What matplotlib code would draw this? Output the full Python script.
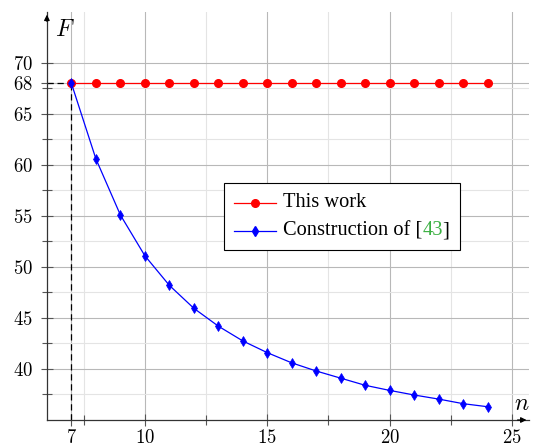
import numpy as np
import matplotlib
matplotlib.use("Agg")
import matplotlib.pyplot as plt
from matplotlib.ticker import FixedLocator
from matplotlib.lines import Line2D
from matplotlib.offsetbox import (DrawingArea, TextArea, HPacker, VPacker,
                                  AnchoredOffsetbox)

plt.rcParams['font.family'] = ['cmr10', 'DejaVu Serif']
plt.rcParams['mathtext.fontset'] = 'cm'
plt.rcParams['axes.formatter.use_mathtext'] = True

# data
n_vals = [7, 8, 9, 10, 11, 12, 13, 14, 15, 16, 17, 18, 19, 20, 21, 22, 23, 24]
this_work = [68] * len(n_vals)
construction = [68.0, 60.6, 55.1, 51.1, 48.2, 45.95, 44.2, 42.75, 41.6, 40.6,
                39.8, 39.1, 38.4, 37.9, 37.45, 37.05, 36.6, 36.3]
x_major = [7, 10, 15, 20, 25]
x_minor = [7.5, 12.5, 17.5, 22.5]
y_major = [40, 45, 50, 55, 60, 65, 68, 70]
y_minor = [37.5, 42.5, 47.5, 52.5, 57.5, 62.5, 67.5]
label_a = "This work"
label_b_parts = ["Construction of [", "43", "]"]
label_b_colors = ["black", "#3cb043", "black"]

fig = plt.figure(figsize=(5.33, 4.47), dpi=100)
ax = fig.add_axes([0.088, 0.0604, 0.905, 0.913])
ax.set_xlim(6, 25.7)
ax.set_ylim(35, 75)

ax.xaxis.set_major_locator(FixedLocator(x_major))
ax.xaxis.set_minor_locator(FixedLocator(x_minor))
ax.yaxis.set_major_locator(FixedLocator(y_major))
ax.yaxis.set_minor_locator(FixedLocator(y_minor))
ax.grid(which='major', color='#b8b8b8', lw=0.8)
ax.grid(which='minor', color='#e4e4e4', lw=0.8)
ax.set_axisbelow(True)
ax.tick_params(which='both', direction='inout', length=8.5, width=0.8,
               color='#555555', labelsize=13.5)
ax.tick_params(axis='y', pad=6)
ax.tick_params(axis='x', pad=2.5)
ax.tick_params(which='minor', length=7)

for s in ['top', 'right']:
    ax.spines[s].set_visible(False)
for s in ['left', 'bottom']:
    ax.spines[s].set_color('#333333')
    ax.spines[s].set_linewidth(0.9)

# arrow heads
ax.annotate('', xy=(0, 1.0), xytext=(0, 0.97), xycoords='axes fraction',
            arrowprops=dict(arrowstyle='-|>', color='black', lw=0.9,
                            mutation_scale=8), annotation_clip=False)
ax.annotate('', xy=(1.0, 0), xytext=(0.97, 0), xycoords='axes fraction',
            arrowprops=dict(arrowstyle='-|>', color='black', lw=0.9,
                            mutation_scale=8), annotation_clip=False)

# dashed guides at (7, 68)
ax.plot([n_vals[0], n_vals[0]], [35, this_work[0]], color='black', lw=0.9,
        ls=(0, (5, 3)), zorder=2)
ax.plot([6, n_vals[0]], [this_work[0], this_work[0]], color='black', lw=0.9,
        ls=(0, (5, 3)), zorder=2)

ax.plot(n_vals, this_work, color='red', lw=0.9, marker='o', markersize=5.5,
        zorder=3)
ax.plot(n_vals, construction, color='blue', lw=0.9, marker='d',
        markersize=5, markeredgewidth=0.5, zorder=4)

ax.text(0.037, 0.956, '$F$', transform=ax.transAxes, fontsize=17,
        ha='center', va='center')
ax.text(0.985, 0.04, '$n$', transform=ax.transAxes, fontsize=17,
        ha='center', va='center')


# legend built by hand so the citation number can be green
def handle(color, marker, ms):
    da = DrawingArea(30, 10, 0, 0)
    da.add_artist(Line2D([0, 30], [5, 5], color=color, lw=0.9))
    da.add_artist(Line2D([15], [5], color=color, marker=marker,
                         markersize=ms, lw=0))
    return da


txt = dict(fontsize=14.7, family='Liberation Serif')
row1 = HPacker(children=[handle('red', 'o', 5.5),
                         TextArea(label_a, textprops=dict(color='black', **txt))],
               align='center', pad=0, sep=5)
parts = HPacker(children=[TextArea(p, textprops=dict(color=c, **txt))
                          for p, c in zip(label_b_parts, label_b_colors)],
                align='baseline', pad=0, sep=0)
row2 = HPacker(children=[handle('blue', 'd', 5), parts],
               align='center', pad=0, sep=5)
rows = VPacker(children=[row1, row2], align='left', pad=0, sep=6.5)
box = AnchoredOffsetbox(loc='upper left', child=rows, pad=0.5, borderpad=0,
                        frameon=True, bbox_to_anchor=(0.367, 0.581),
                        bbox_transform=ax.transAxes, prop=dict(size=14.7))
box.patch.set_boxstyle('square', pad=0)
box.patch.set_edgecolor('black')
box.patch.set_linewidth(0.8)
box.set_zorder(5)
ax.add_artist(box)

fig.savefig("out.png", dpi=100)
